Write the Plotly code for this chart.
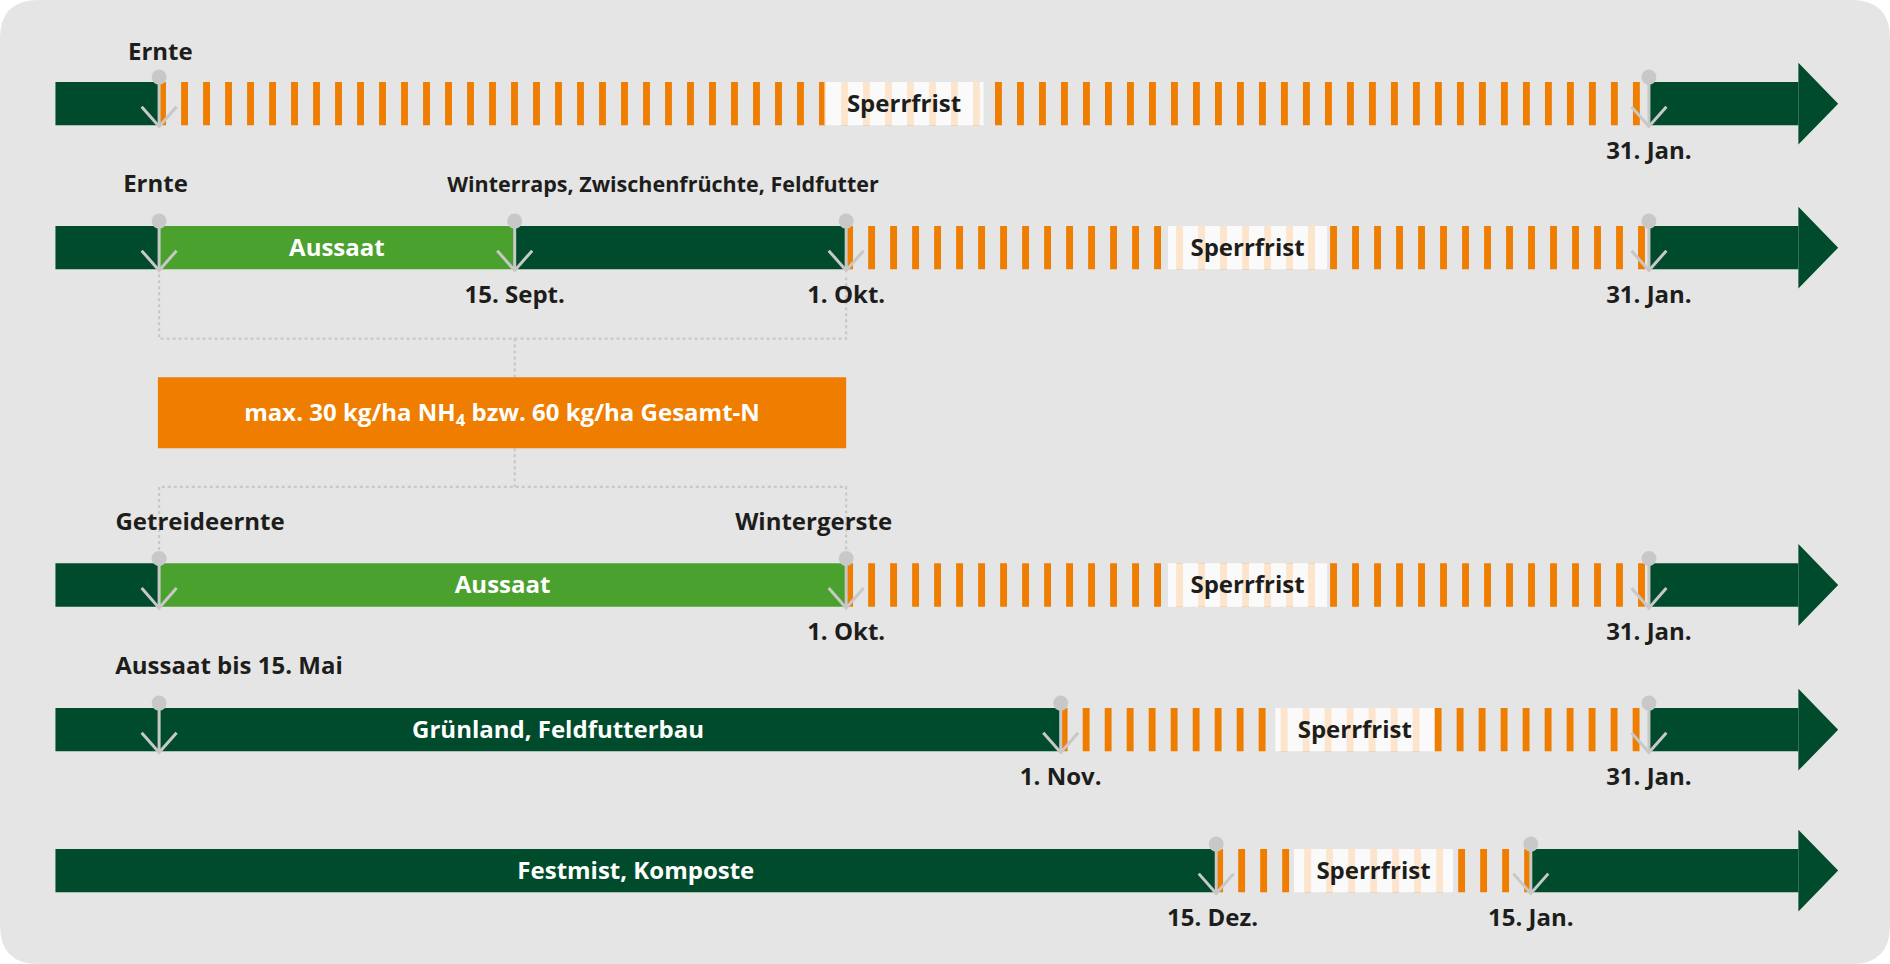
import plotly.graph_objects as go

# ---- data ---------------------------------------------------------------
# positions of the key dates on the time line (x-axis units)
LINE_START = 46
DATE_ERNTE = 132
DATE_15_SEPT = 427
DATE_1_OKT = 702
DATE_1_NOV = 880
DATE_15_DEZ = 1009
DATE_15_JAN = 1270
DATE_31_JAN = 1368
LINE_END = 1492

# one block per row: phase boundaries, phase kind, text in the phase
row1_bounds = [LINE_START, DATE_ERNTE, DATE_31_JAN, LINE_END]
row1_kinds = ["open", "ban", "open"]
row1_labels = ["", "Sperrfrist", ""]
row1_marks = [DATE_ERNTE, DATE_31_JAN]

row2_bounds = [LINE_START, DATE_ERNTE, DATE_15_SEPT, DATE_1_OKT, DATE_31_JAN, LINE_END]
row2_kinds = ["open", "sow", "open", "ban", "open"]
row2_labels = ["", "Aussaat", "", "Sperrfrist", ""]
row2_marks = [DATE_ERNTE, DATE_15_SEPT, DATE_1_OKT, DATE_31_JAN]

row3_bounds = [LINE_START, DATE_ERNTE, DATE_1_OKT, DATE_31_JAN, LINE_END]
row3_kinds = ["open", "sow", "ban", "open"]
row3_labels = ["", "Aussaat", "Sperrfrist", ""]
row3_marks = [DATE_ERNTE, DATE_1_OKT, DATE_31_JAN]

row4_bounds = [LINE_START, DATE_1_NOV, DATE_31_JAN, LINE_END]
row4_kinds = ["open", "ban", "open"]
row4_labels = ["Grünland, Feldfutterbau", "Sperrfrist", ""]
row4_marks = [DATE_ERNTE, DATE_1_NOV, DATE_31_JAN]

row5_bounds = [LINE_START, DATE_15_DEZ, DATE_15_JAN, LINE_END]
row5_kinds = ["open", "ban", "open"]
row5_labels = ["Festmist, Komposte", "Sperrfrist", ""]
row5_marks = [DATE_15_DEZ, DATE_15_JAN]

# labels above the bars
above_text = ["Ernte", "Ernte", "Winterraps, Zwischenfrüchte, Feldfutter",
              "Getreideernte", "Wintergerste", "Aussaat bis 15. Mai"]
above_x = [133, 129, 550, 166, 675, 190]
above_row = [0, 1, 1, 2, 2, 3]
above_small = [False, False, True, False, False, False]

# date labels below the bars
below_text = ["31. Jan.", "15. Sept.", "1. Okt.", "31. Jan.", "1. Okt.", "31. Jan.",
              "1. Nov.", "31. Jan.", "15. Dez.", "15. Jan."]
below_x = [DATE_31_JAN, DATE_15_SEPT, DATE_1_OKT, DATE_31_JAN, DATE_1_OKT, DATE_31_JAN,
           DATE_1_NOV, DATE_31_JAN, DATE_15_DEZ - 3, DATE_15_JAN]
below_row = [0, 1, 1, 1, 2, 2, 3, 3, 4, 4]

limit_text = "max. 30 kg/ha NH<sub>4</sub> bzw. 60 kg/ha Gesamt-N"

# ---- layout constants ---------------------------------------------------
W, H = 1568, 800
ROW_Y = [86, 205.5, 485.5, 605.5, 722.5]
BAR_H = 36
ABOVE_GAP = [25, 35, 35, 35, 35]
TXT_DY = 2          # plotly centres text a touch high
STRIPE_W, STRIPE_STEP = 5.7, 18.25
BOX_W = 132
HEAD_LEN, HEAD_OUT = 33, 16

DARK = "#004b2b"
LIGHT = "#4ba12e"
ORANGE = "#ef7d00"
GREY = "#c8c8c8"
BG = "#e5e5e5"
INK = "#1d1d1b"
FONT = "Open Sans"
FS = 24
FS_SMALL = 21.5

rows = [
    (row1_bounds, row1_kinds, row1_labels, row1_marks),
    (row2_bounds, row2_kinds, row2_labels, row2_marks),
    (row3_bounds, row3_kinds, row3_labels, row3_marks),
    (row4_bounds, row4_kinds, row4_labels, row4_marks),
    (row5_bounds, row5_kinds, row5_labels, row5_marks),
]

fig = go.Figure()


def rect(xs, ys, x0, x1, y0, y1):
    xs += [x0, x1, x1, x0, x0, None]
    ys += [y0, y0, y1, y1, y0, None]


def text_trace(xs, ys, texts, color, size):
    return go.Scatter(
        x=xs, y=[y + TXT_DY for y in ys], text=texts, mode="text",
        textposition="middle center",
        textfont=dict(family=FONT, size=size, color=color, weight="bold"),
        hoverinfo="skip", showlegend=False,
    )


bar_y = {"open": [], "sow": []}
bar_base = {"open": [], "sow": []}
bar_len = {"open": [], "sow": []}
stripe_x, stripe_y = [], []
box_x, box_y = [], []
head_x, head_y = [], []
pin_x, pin_y = [], []
dot_x, dot_y = [], []
white_x, white_y, white_t = [], [], []
ban_x, ban_y, ban_t = [], [], []

for i, (bounds, kinds, labels, marks) in enumerate(rows):
    yc = ROW_Y[i]
    top, bot = yc - BAR_H / 2, yc + BAR_H / 2
    for a, b, kind, lab in zip(bounds[:-1], bounds[1:], kinds, labels):
        if kind == "ban":
            c = a
            while c < b:
                rect(stripe_x, stripe_y, c, min(c + STRIPE_W, b), top, bot)
                c += STRIPE_STEP
            m = (a + b) / 2
            rect(box_x, box_y, m - BOX_W / 2, m + BOX_W / 2, top, bot)
            ban_x.append(m)
            ban_y.append(yc)
            ban_t.append(lab)
        else:
            bar_y[kind].append(yc)
            bar_base[kind].append(a)
            bar_len[kind].append(b - a)
            if lab:
                white_x.append((a + b) / 2)
                white_y.append(yc)
                white_t.append(lab)
    end = bounds[-1]
    head_x += [end, end + HEAD_LEN, end, end, None]
    head_y += [top - HEAD_OUT, yc, bot + HEAD_OUT, top - HEAD_OUT, None]
    for mx in marks:
        pin_x += [mx, mx, None, mx - 14.5, mx, mx + 14.5, None]
        pin_y += [top - 4, bot + 1, None, bot - 15.5, bot + 1, bot - 15.5, None]
        dot_x.append(mx)
        dot_y.append(top - 4)

for kind, col in (("open", DARK), ("sow", LIGHT)):
    fig.add_trace(go.Bar(
        y=bar_y[kind], x=bar_len[kind], base=bar_base[kind], orientation="h",
        width=BAR_H, marker=dict(color=col, line=dict(width=0)),
        hoverinfo="skip", showlegend=False,
    ))

fig.add_trace(go.Scatter(x=head_x, y=head_y, mode="lines", fill="toself",
                         fillcolor=DARK, line=dict(width=0), hoverinfo="skip",
                         showlegend=False))
fig.add_trace(go.Scatter(x=stripe_x, y=stripe_y, mode="lines", fill="toself",
                         fillcolor=ORANGE, line=dict(width=0), hoverinfo="skip",
                         showlegend=False))
fig.add_trace(go.Scatter(x=box_x, y=box_y, mode="lines", fill="toself",
                         fillcolor="rgba(255,255,255,0.8)", line=dict(width=0),
                         hoverinfo="skip", showlegend=False))

# dotted brackets joining rows 2 and 3 to the nitrogen limit box
r2_bot = ROW_Y[1] + BAR_H / 2
r3_top = ROW_Y[2] - BAR_H / 2
bx0, bx1, by0, by1 = 131, 702, 313, 372
mid = DATE_15_SEPT
conn_x = [DATE_ERNTE, DATE_ERNTE, DATE_1_OKT, DATE_1_OKT, None, mid, mid, None,
          mid, mid, None, DATE_ERNTE, DATE_ERNTE, DATE_1_OKT, DATE_1_OKT]
conn_y = [r2_bot + 4, 281, 281, r2_bot + 4, None, 281, by0, None,
          by1, 404, None, r3_top - 6, 404, 404, r3_top - 6]
fig.add_trace(go.Scatter(x=conn_x, y=conn_y, mode="lines",
                         line=dict(color=GREY, width=2.2, dash="dot"),
                         hoverinfo="skip", showlegend=False))

lim_x, lim_y = [], []
rect(lim_x, lim_y, bx0, bx1, by0, by1)
fig.add_trace(go.Scatter(x=lim_x, y=lim_y, mode="lines", fill="toself",
                         fillcolor=ORANGE, line=dict(width=0), hoverinfo="skip",
                         showlegend=False))

fig.add_trace(go.Scatter(x=pin_x, y=pin_y, mode="lines",
                         line=dict(color=GREY, width=3), hoverinfo="skip",
                         showlegend=False))
fig.add_trace(go.Scatter(x=dot_x, y=dot_y, mode="markers",
                         marker=dict(color=GREY, size=15, line=dict(width=0)),
                         hoverinfo="skip", showlegend=False))

# texts
white_x.append((bx0 + bx1) / 2)
white_y.append((by0 + by1) / 2)
white_t.append(limit_text)
fig.add_trace(text_trace(white_x, white_y, white_t, "white", FS))
fig.add_trace(text_trace(ban_x, ban_y, ban_t, INK, FS))

for small in (False, True):
    sel = [k for k, s in enumerate(above_small) if s == small]
    fig.add_trace(text_trace(
        [above_x[k] for k in sel],
        [ROW_Y[above_row[k]] - BAR_H / 2 - ABOVE_GAP[above_row[k]] for k in sel],
        [above_text[k] for k in sel], INK, FS_SMALL if small else FS,
    ))

fig.add_trace(text_trace(
    below_x, [ROW_Y[r] + BAR_H / 2 + 21 for r in below_row],
    below_text, INK, FS,
))

R = 32
bg_path = (f"M {R},0 H {W - R} Q {W},0 {W},{R} V {H - R} Q {W},{H} {W - R},{H} "
           f"H {R} Q 0,{H} 0,{H - R} V {R} Q 0,0 {R},0 Z")
fig.add_shape(type="path", path=bg_path, xref="x", yref="y",
              fillcolor=BG, line=dict(width=0), layer="below")

fig.update_layout(
    width=1890, height=964,
    margin=dict(l=0, r=0, t=0, b=0),
    paper_bgcolor="white", plot_bgcolor="white",
    barmode="overlay", showlegend=False,
    xaxis=dict(range=[0, W], visible=False, fixedrange=True),
    yaxis=dict(range=[H, 0], visible=False, fixedrange=True),
)

fig.write_html("out.html", config={"displayModeBar": False},
               post_script="document.body.style.margin = '0';")
